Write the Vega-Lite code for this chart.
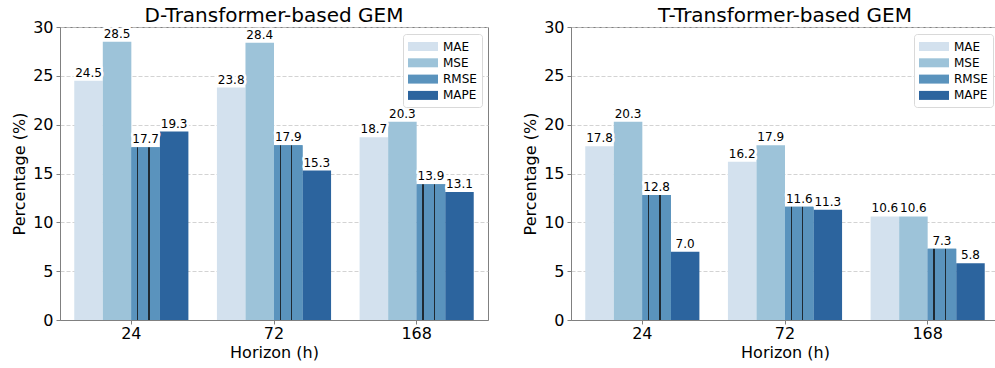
{
  "$schema": "https://vega.github.io/schema/vega-lite/v6.json",
  "background": "white",
  "padding": {"left": 11, "top": 5, "right": 0, "bottom": 4},
  "spacing": 33,
  "config": {
    "font": "DejaVu Sans",
    "view": {"stroke": "#808080", "strokeWidth": 1},
    "axis": {
      "labelFont": "DejaVu Sans",
      "titleFont": "DejaVu Sans",
      "labelFontSize": 16,
      "titleFontSize": 16,
      "titleFontWeight": "normal",
      "labelColor": "#000000",
      "titleColor": "#000000",
      "domainColor": "#808080",
      "tickColor": "#808080",
      "tickSize": 4,
      "labelPadding": 3
    },
    "title": {"font": "DejaVu Sans", "fontSize": 20, "fontWeight": "normal", "color": "#000000", "offset": -7},
    "legend": {
      "orient": "none",
      "legendX": 343,
      "legendY": 7,
      "title": null,
      "labelFont": "DejaVu Sans",
      "labelFontSize": 12,
      "labelColor": "#000000",
      "fillColor": "white",
      "strokeColor": "#d9d9d9",
      "cornerRadius": 3,
      "padding": 5,
      "rowPadding": 2.3,
      "symbolType": "M-2,-0.6H2V0.6H-2Z",
      "symbolSize": 225,
      "symbolStrokeWidth": 0,
      "symbolOpacity": 1,
      "symbolOffset": 7.5,
      "labelOffset": 12.5
    }
  },
  "datasets": {
    "dtrans": [
      {"horizon": "24", "metric": "MAE", "value": 24.5},
      {"horizon": "24", "metric": "MSE", "value": 28.5},
      {"horizon": "24", "metric": "RMSE", "value": 17.7},
      {"horizon": "24", "metric": "MAPE", "value": 19.3},
      {"horizon": "72", "metric": "MAE", "value": 23.8},
      {"horizon": "72", "metric": "MSE", "value": 28.4},
      {"horizon": "72", "metric": "RMSE", "value": 17.9},
      {"horizon": "72", "metric": "MAPE", "value": 15.3},
      {"horizon": "168", "metric": "MAE", "value": 18.7},
      {"horizon": "168", "metric": "MSE", "value": 20.3},
      {"horizon": "168", "metric": "RMSE", "value": 13.9},
      {"horizon": "168", "metric": "MAPE", "value": 13.1}
    ],
    "ttrans": [
      {"horizon": "24", "metric": "MAE", "value": 17.8},
      {"horizon": "24", "metric": "MSE", "value": 20.3},
      {"horizon": "24", "metric": "RMSE", "value": 12.8},
      {"horizon": "24", "metric": "MAPE", "value": 7.0},
      {"horizon": "72", "metric": "MAE", "value": 16.2},
      {"horizon": "72", "metric": "MSE", "value": 17.9},
      {"horizon": "72", "metric": "RMSE", "value": 11.6},
      {"horizon": "72", "metric": "MAPE", "value": 11.3},
      {"horizon": "168", "metric": "MAE", "value": 10.6},
      {"horizon": "168", "metric": "MSE", "value": 10.6},
      {"horizon": "168", "metric": "RMSE", "value": 7.3},
      {"horizon": "168", "metric": "MAPE", "value": 5.8}
    ]
  },
  "resolve": {"legend": {"color": "independent"}},
  "hconcat": [
    {
      "width": 428,
      "height": 293,
      "title": "D-Transformer-based GEM",
      "data": {"name": "dtrans"},
      "encoding": {
        "x": {
          "field": "horizon", "type": "nominal", "sort": ["24", "72", "168"],
          "scale": {"paddingInner": 0.2, "paddingOuter": 0.1},
          "axis": {"title": "Horizon (h)", "labelAngle": 0, "labelPadding": 1, "titlePadding": 3}
        },
        "xOffset": {
          "field": "metric", "type": "nominal", "sort": ["MAE", "MSE", "RMSE", "MAPE"],
          "scale": {"paddingInner": 0, "paddingOuter": 0}
        },
        "y": {
          "field": "value", "type": "quantitative",
          "scale": {"domain": [0, 30], "nice": false},
          "axis": {
            "title": "Percentage (%)", "values": [0, 5, 10, 15, 20, 25, 30],
            "titlePadding": 5, "grid": true,
            "gridColor": "#c8c8c8", "gridDash": [4, 2], "gridWidth": 0.8
          }
        }
      },
      "layer": [
        {
          "mark": {"type": "bar"},
          "encoding": {
            "color": {
              "field": "metric", "type": "nominal",
              "sort": ["MAE", "MSE", "RMSE", "MAPE"],
              "scale": {"domain": ["MAE", "MSE", "RMSE", "MAPE"], "range": ["#d3e1ee", "#9dc3d9", "#5a93bd", "#2c649e"]}
            }
          }
        },
        {
          "transform": [{"filter": "datum.metric === 'RMSE'"}],
          "mark": {
            "type": "bar",
            "fill": {
              "gradient": "linear", "x1": 0, "x2": 1, "y1": 0, "y2": 0,
              "stops": [
                {"offset": 0, "color": "#5a93bd"},
                {"offset": 0.2, "color": "#5a93bd"},
                {"offset": 0.2, "color": "#1f2a33"},
                {"offset": 0.24, "color": "#1f2a33"},
                {"offset": 0.24, "color": "#5a93bd"},
                {"offset": 0.6, "color": "#5a93bd"},
                {"offset": 0.6, "color": "#1f2a33"},
                {"offset": 0.64, "color": "#1f2a33"},
                {"offset": 0.64, "color": "#5a93bd"},
                {"offset": 1, "color": "#5a93bd"}
              ]
            }
          },
          "encoding": {}
        },
        {
          "mark": {"type": "text", "baseline": "bottom", "dy": -1, "fontSize": 12, "stroke": "white", "strokeWidth": 5, "strokeJoin": "round", "fill": "white"},
          "encoding": {"text": {"field": "value", "type": "quantitative", "format": ".1f"}}
        },
        {
          "mark": {"type": "text", "baseline": "bottom", "dy": -1, "fontSize": 12, "color": "#000000"},
          "encoding": {"text": {"field": "value", "type": "quantitative", "format": ".1f"}}
        }
      ]
    },
    {
      "width": 428,
      "height": 293,
      "title": "T-Transformer-based GEM",
      "data": {"name": "ttrans"},
      "encoding": {
        "x": {
          "field": "horizon", "type": "nominal", "sort": ["24", "72", "168"],
          "scale": {"paddingInner": 0.2, "paddingOuter": 0.1},
          "axis": {"title": "Horizon (h)", "labelAngle": 0, "labelPadding": 1, "titlePadding": 3}
        },
        "xOffset": {
          "field": "metric", "type": "nominal", "sort": ["MAE", "MSE", "RMSE", "MAPE"],
          "scale": {"paddingInner": 0, "paddingOuter": 0}
        },
        "y": {
          "field": "value", "type": "quantitative",
          "scale": {"domain": [0, 30], "nice": false},
          "axis": {
            "title": "Percentage (%)", "values": [0, 5, 10, 15, 20, 25, 30],
            "titlePadding": 5, "grid": true,
            "gridColor": "#c8c8c8", "gridDash": [4, 2], "gridWidth": 0.8
          }
        }
      },
      "layer": [
        {
          "mark": {"type": "bar"},
          "encoding": {
            "color": {
              "field": "metric", "type": "nominal",
              "sort": ["MAE", "MSE", "RMSE", "MAPE"],
              "scale": {"domain": ["MAE", "MSE", "RMSE", "MAPE"], "range": ["#d3e1ee", "#9dc3d9", "#5a93bd", "#2c649e"]}
            }
          }
        },
        {
          "transform": [{"filter": "datum.metric === 'RMSE'"}],
          "mark": {
            "type": "bar",
            "fill": {
              "gradient": "linear", "x1": 0, "x2": 1, "y1": 0, "y2": 0,
              "stops": [
                {"offset": 0, "color": "#5a93bd"},
                {"offset": 0.2, "color": "#5a93bd"},
                {"offset": 0.2, "color": "#1f2a33"},
                {"offset": 0.24, "color": "#1f2a33"},
                {"offset": 0.24, "color": "#5a93bd"},
                {"offset": 0.6, "color": "#5a93bd"},
                {"offset": 0.6, "color": "#1f2a33"},
                {"offset": 0.64, "color": "#1f2a33"},
                {"offset": 0.64, "color": "#5a93bd"},
                {"offset": 1, "color": "#5a93bd"}
              ]
            }
          },
          "encoding": {}
        },
        {
          "mark": {"type": "text", "baseline": "bottom", "dy": -1, "fontSize": 12, "stroke": "white", "strokeWidth": 5, "strokeJoin": "round", "fill": "white"},
          "encoding": {"text": {"field": "value", "type": "quantitative", "format": ".1f"}}
        },
        {
          "mark": {"type": "text", "baseline": "bottom", "dy": -1, "fontSize": 12, "color": "#000000"},
          "encoding": {"text": {"field": "value", "type": "quantitative", "format": ".1f"}}
        }
      ]
    }
  ]
}
